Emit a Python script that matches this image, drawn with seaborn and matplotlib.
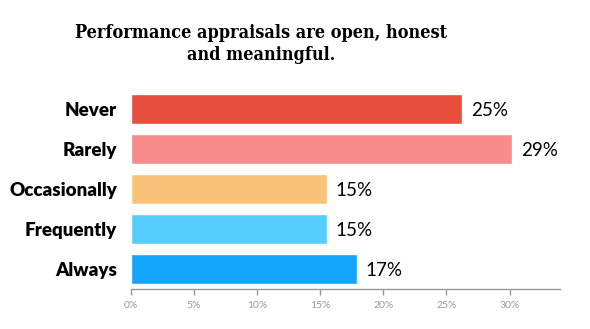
import matplotlib
matplotlib.use("Agg")
import matplotlib.pyplot as plt
import seaborn as sns
import pandas as pd

categories = ["Never", "Rarely", "Occasionally", "Frequently", "Always"]
values = [26.2, 30.2, 15.5, 15.5, 17.9]
value_labels = ["25%", "29%", "15%", "15%", "17%"]
colors = ["#E74E3E", "#F88B8B", "#FAC179", "#56CDFD", "#13A5FD"]
tick_values = [0, 5, 10, 15, 20, 25, 30]
tick_labels = ["0%", "5%", "10%", "15%", "20%", "25%", "30%"]
title = "Performance appraisals are open, honest\nand meaningful."

sns.set_theme(style="white")
plt.rcParams["font.family"] = ["Lato", "DejaVu Sans"]

df = pd.DataFrame({"category": categories, "value": values})

fig = plt.figure(figsize=(5.9, 3.29), dpi=100)
ax = fig.add_axes([131 / 590, 1 - 289 / 329, (560 - 131) / 590, 200 / 329])

sns.barplot(data=df, x="value", y="category", hue="category", order=categories,
            hue_order=categories, palette=dict(zip(categories, colors)),
            orient="h", width=0.75, dodge=False, legend=False, ax=ax, saturation=1)

ax.set_xlim(0, 34)
ax.set_ylim(4.5, -0.5)
ax.set_xticks(tick_values)
ax.set_xticklabels(tick_labels, color="#999999", fontsize=7.5)
ax.tick_params(axis="x", direction="out", length=4, width=1, color="#999999", pad=5, bottom=True)
ax.tick_params(axis="y", length=0, pad=10)
for lbl in ax.get_yticklabels():
    lbl.set_fontweight("heavy")
    lbl.set_fontsize(13.5)
    lbl.set_color("black")
ax.set_xlabel("")
ax.set_ylabel("")
for s in ["top", "right", "left"]:
    ax.spines[s].set_visible(False)
ax.spines["bottom"].set_color("#999999")
ax.spines["bottom"].set_linewidth(1)

for i, (v, t) in enumerate(zip(values, value_labels)):
    ax.annotate(t, xy=(v, i), xytext=(6.5, 0), textcoords="offset points",
                va="center_baseline", ha="left", fontsize=13.5, color="black")

fig.text(261 / 590, 1 - 24 / 329, title, ha="center", va="top",
         fontsize=13, fontweight="bold", family=["DejaVu Serif"], color="black",
         fontstretch="condensed", linespacing=1.25)

fig.savefig("out.png", dpi=100)
